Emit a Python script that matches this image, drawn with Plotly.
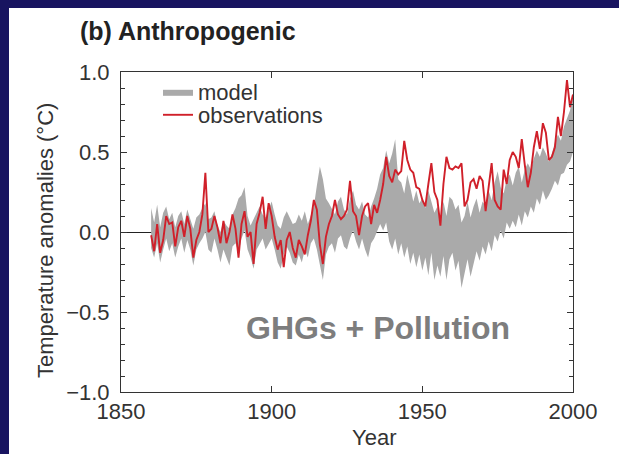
import plotly.graph_objects as go

years = list(range(1860, 2001))

observations = [
    -0.02, -0.12, 0.05, -0.13, -0.05, 0.10, 0.05, 0.06, -0.09, 0.03,
    0.07, -0.03, 0.10, 0.02, -0.16, -0.05, 0.00, 0.11, 0.37, 0.00,
    0.02, 0.10, 0.03, -0.07, 0.07, -0.07, 0.00, 0.11, 0.02, -0.16,
    0.05, 0.13, -0.03, 0.00, -0.20, 0.05, 0.12, 0.22, 0.02, 0.18,
    0.10, -0.03, -0.11, -0.05, -0.22, -0.05, 0.00, -0.10, -0.16, -0.05,
    -0.09, -0.14, -0.02, 0.07, 0.20, 0.14, -0.08, -0.20, -0.03, 0.05,
    0.10, 0.20, 0.11, 0.08, 0.10, 0.14, 0.32, 0.13, 0.10, -0.02,
    0.10, 0.16, 0.18, 0.05, 0.17, 0.12, 0.20, 0.30, 0.47, 0.35,
    0.31, 0.39, 0.36, 0.38, 0.57, 0.45, 0.39, 0.37, 0.28, 0.27,
    0.20, 0.16, 0.30, 0.43, 0.25, 0.20, 0.04, 0.30, 0.47, 0.40,
    0.39, 0.41, 0.40, 0.43, 0.16, 0.20, 0.31, 0.33, 0.27, 0.35,
    0.32, 0.13, 0.28, 0.43, 0.20, 0.16, 0.14, 0.39, 0.30, 0.45,
    0.50, 0.47, 0.40, 0.58, 0.42, 0.28, 0.37, 0.53, 0.63, 0.52,
    0.68, 0.62, 0.45, 0.47, 0.53, 0.72, 0.60, 0.75, 0.95, 0.78,
    0.86,
]

model_upper = [
    0.15, 0.06, 0.17, 0.03, 0.12, 0.16, 0.08, 0.12, 0.03, 0.10,
    0.13, 0.05, 0.14, 0.08, 0.02, 0.09, 0.11, 0.15, 0.18, 0.08,
    0.09, 0.13, 0.04, 0.00, 0.07, 0.04, 0.02, 0.11, 0.15, 0.21,
    0.23, 0.28, 0.10, 0.04, 0.08, 0.11, 0.16, 0.11, 0.09, 0.14,
    0.19, 0.11, 0.04, 0.02, 0.09, 0.13, 0.09, 0.05, 0.06, 0.11,
    0.07, 0.13, 0.05, 0.10, 0.16, 0.29, 0.41, 0.33, 0.21, 0.18,
    0.14, 0.11, 0.19, 0.22, 0.14, 0.11, 0.21, 0.26, 0.17, 0.14,
    0.19, 0.11, 0.09, 0.16, 0.21, 0.27, 0.36, 0.40, 0.51, 0.43,
    0.49, 0.58, 0.33, 0.31, 0.24, 0.36, 0.28, 0.19, 0.26, 0.18,
    0.21, 0.15, 0.26, 0.18, 0.12, 0.16, 0.08, 0.19, 0.10, 0.22,
    0.20, 0.14, 0.17, 0.06, 0.10, 0.19, 0.09, 0.16, 0.21, 0.12,
    0.19, 0.16, 0.26, 0.20, 0.31, 0.38, 0.28, 0.24, 0.33, 0.36,
    0.29, 0.37, 0.41, 0.31, 0.39, 0.43, 0.39, 0.46, 0.51, 0.47,
    0.53, 0.49, 0.44, 0.49, 0.56, 0.61, 0.57, 0.66, 0.71, 0.76,
    0.85,
]

model_lower = [
    -0.10, -0.16, -0.07, -0.19, -0.11, -0.04, -0.12, -0.07, -0.16, -0.09,
    -0.04, -0.13, -0.05, -0.11, -0.21, -0.11, -0.07, -0.04, 0.00, -0.11,
    -0.13, -0.04, -0.11, -0.19, -0.11, -0.16, -0.21, -0.09, -0.07, -0.13,
    -0.04, 0.01, -0.11, -0.16, -0.23, -0.11, -0.07, -0.04, -0.11, -0.07,
    -0.04, -0.11, -0.19, -0.23, -0.14, -0.09, -0.13, -0.19, -0.21, -0.14,
    -0.19, -0.11, -0.16, -0.07, -0.04, -0.11, -0.21, -0.30, -0.14, -0.09,
    -0.07, -0.13, -0.04, -0.02, -0.09, -0.11, -0.04, 0.01, -0.06, -0.11,
    -0.04, -0.11, -0.16, -0.07, -0.04, 0.01, 0.05, 0.01, 0.06, -0.06,
    -0.11, -0.04, -0.14, -0.07, -0.16, -0.09, -0.20, -0.13, -0.22, -0.14,
    -0.24, -0.16, -0.27, -0.13, -0.30, -0.21, -0.28, -0.15, -0.30, -0.17,
    -0.13, -0.24, -0.18, -0.35, -0.26, -0.17, -0.28, -0.20, -0.12, -0.18,
    -0.09, -0.14, -0.06, -0.12, -0.02, -0.06, 0.01, -0.04, 0.06, 0.02,
    0.07, 0.03, 0.11, 0.04, 0.13, 0.09, 0.16, 0.12, 0.21, 0.17,
    0.26, 0.20, 0.23, 0.27, 0.32, 0.29, 0.36, 0.37, 0.42, 0.44,
    0.50,
]

x_tick_vals = [1850, 1900, 1950, 2000]
y_tick_vals = [-1.0, -0.5, 0.0, 0.5, 1.0]

NAVY = "rgb(24,20,96)"
FONT = "Liberation Sans, Arial, sans-serif"

fig = go.Figure()
fig.add_trace(go.Scatter(x=years, y=model_lower, mode="lines",
                         line=dict(width=0, color="rgb(170,170,170)"),
                         showlegend=False, hoverinfo="skip"))
fig.add_trace(go.Scatter(x=years, y=model_upper, mode="lines", fill="tonexty",
                         fillcolor="rgb(170,170,170)",
                         line=dict(width=0, color="rgb(170,170,170)"),
                         name="model", legend="legend"))
fig.add_trace(go.Scatter(x=years, y=observations, mode="lines",
                         line=dict(width=1.9, color="rgb(208,32,42)"),
                         name="observations", legend="legend2"))

W, H = 619, 454
L, R, T, B = 121, 46, 72, 62
pw, ph = W - L - R, H - T - B

def px(xp):
    return (xp - L) / pw

def py(yp):
    return (H - B - yp) / ph

legend_common = dict(xanchor="left", yanchor="top", bgcolor="rgba(0,0,0,0)",
                     font=dict(size=22, color="#333"), itemwidth=30)

fig.update_layout(
    width=W, height=H,
    margin=dict(l=L, r=R, t=T, b=B, pad=0),
    paper_bgcolor=NAVY,
    plot_bgcolor="white",
    font=dict(family=FONT, size=22, color="#222"),
    showlegend=True,
    legend=dict(x=px(158), y=py(71), **legend_common),
    legend2=dict(x=px(158), y=py(94), **legend_common),
    xaxis=dict(range=[1850, 2000], tickvals=x_tick_vals,
               ticks="inside", ticklen=6, tickcolor="#333",
               showline=True, linecolor="#333", linewidth=1, mirror="ticks",
               showgrid=False, zeroline=False, layer="above traces",
               tickfont=dict(size=22, color="#333")),
    yaxis=dict(range=[-1, 1], tickvals=y_tick_vals, tickformat=".1f",
               ticks="inside", ticklen=6, tickcolor="#333",
               minor=dict(dtick=0.1, ticks="inside", ticklen=4, tickcolor="#333"),
               showline=True, linecolor="#333", linewidth=1, mirror="ticks",
               showgrid=False, zeroline=True, zerolinecolor="#222", zerolinewidth=1.2,
               layer="above traces", ticklabelstandoff=6,
               tickfont=dict(size=22, color="#333")),
    shapes=[dict(type="rect", xref="paper", yref="paper",
                 x0=px(9), x1=px(640), y0=py(8), y1=py(470),
                 fillcolor="white", line=dict(width=0), layer="below")],
    annotations=[
        dict(text="<b>(b) Anthropogenic</b>", xref="paper", yref="paper",
             x=px(78), y=py(31), xanchor="left", yanchor="middle",
             showarrow=False, font=dict(size=25, color="#222")),
        dict(text="Temperature anomalies (°C)", xref="paper", yref="paper",
             x=px(45), y=py(241), xanchor="center", yanchor="middle",
             textangle=-90, showarrow=False, font=dict(size=22, color="#333")),
        dict(text="Year", xref="paper", yref="paper",
             x=px(374), y=py(437), xanchor="center", yanchor="middle",
             showarrow=False, font=dict(size=22, color="#333")),
        dict(text="<b>GHGs + Pollution</b>", xref="paper", yref="paper",
             x=px(378), y=py(328), xanchor="center", yanchor="middle",
             showarrow=False,
             font=dict(size=32, color="rgb(125,125,125)", family=FONT)),
    ],
)

fig.write_html("out.html")
